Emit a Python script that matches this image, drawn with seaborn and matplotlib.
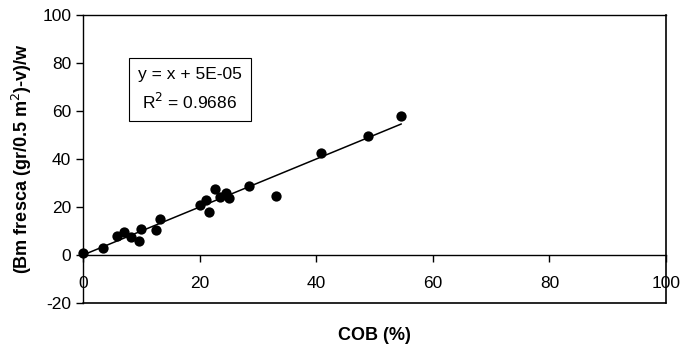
import numpy as np
import pandas as pd
import matplotlib
matplotlib.use("Agg")
import matplotlib.pyplot as plt
import seaborn as sns

cob = [0.0, 3.5, 5.8, 7.1, 8.3, 9.6, 9.9, 12.5, 13.2, 20.0, 21.1, 21.6,
       22.6, 23.5, 24.5, 25.0, 28.4, 33.1, 40.8, 48.9, 54.6]
bm = [1.0, 3.0, 8.0, 9.5, 7.4, 6.0, 11.0, 10.5, 15.0, 20.8, 23.0, 18.0,
      27.4, 24.3, 26.0, 23.6, 28.8, 24.7, 42.4, 49.7, 57.9]
slope = 1.0
intercept = 5e-05
equation = "y = x + 5E-05"
r2_text = "R$^2$ = 0.9686"

df = pd.DataFrame({"COB": cob, "Bm": bm})
xfit = np.array([min(cob), max(cob)])
fit = pd.DataFrame({"COB": xfit, "Bm": slope * xfit + intercept})

sns.set_style("white")
plt.rcParams["font.family"] = ["Liberation Sans", "DejaVu Sans"]
plt.rcParams["axes.unicode_minus"] = False
for key in ["text.color", "axes.labelcolor", "xtick.color", "ytick.color"]:
    plt.rcParams[key] = "black"

fig = plt.figure(figsize=(6.85, 3.52), dpi=100)
ax = fig.add_axes([0.1212, 0.1392, 0.8511, 0.8182])

sns.lineplot(data=fit, x="COB", y="Bm", color="black", linewidth=1.1, ax=ax)
sns.scatterplot(data=df, x="COB", y="Bm", color="black", s=55,
                edgecolor="black", linewidth=0, ax=ax, zorder=3, clip_on=False)

ax.set_xlim(0, 100)
ax.set_ylim(-20, 100)
ax.set_xticks([0, 20, 40, 60, 80, 100])
ax.set_yticks([-20, 0, 20, 40, 60, 80, 100])

# x axis sits on y = 0, box closed by lines at the edges
ax.spines["bottom"].set_position(("data", 0))
for s in ax.spines.values():
    s.set_color("black")
    s.set_linewidth(1.0)
ax.axhline(-20, color="black", linewidth=1.2, clip_on=False)
ax.spines["right"].set_linewidth(1.2)

ax.tick_params(axis="both", direction="out", length=5, width=1,
               color="black", labelsize=12.5, bottom=True, left=True)
ax.tick_params(axis="x", pad=10)

ax.set_xlabel("")
ax.set_ylabel("(Bm fresca (gr/0.5 m$^2$)-v)/w", fontsize=13, fontweight="bold",
              labelpad=6)
fig.text(0.547, 0.035, "COB (%)", fontsize=13, fontweight="bold", ha="center")

ax.text(0.1835, 0.741, equation + "\n" + r2_text, transform=ax.transAxes,
        fontsize=12.5, ha="center", va="center", linespacing=1.6,
        bbox=dict(boxstyle="square,pad=0.5", facecolor="white",
                  edgecolor="black", linewidth=0.8))

fig.savefig("out.png", dpi=100)
